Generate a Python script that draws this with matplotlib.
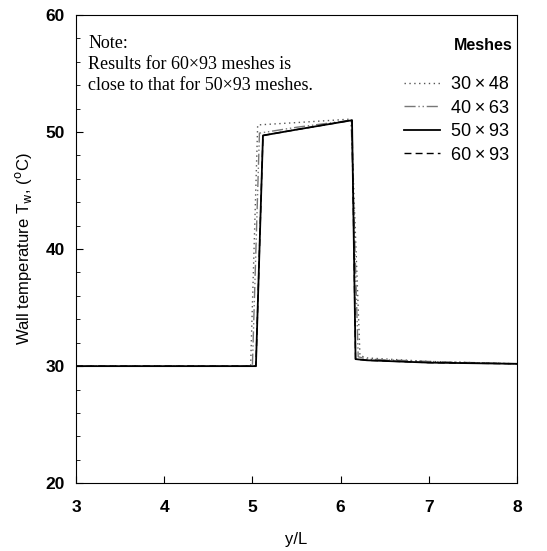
import numpy as np
import matplotlib.pyplot as plt

# wall temperature vs y/L for four mesh sizes
x_30x48 = [3.0, 4.98, 5.06, 5.5, 6.12, 6.22, 6.3, 7.0, 8.0]
t_30x48 = [30.0, 30.0, 50.6, 50.8, 51.1, 30.9, 30.7, 30.4, 30.2]

x_40x63 = [3.0, 5.0, 5.08, 5.5, 6.12, 6.2, 6.3, 7.0, 8.0]
t_40x63 = [30.0, 30.0, 49.9, 50.4, 51.0, 30.8, 30.6, 30.4, 30.2]

x_50x93 = [3.0, 5.04, 5.12, 5.5, 6.13, 6.17, 6.3, 7.0, 8.0]
t_50x93 = [30.0, 30.0, 49.7, 50.2, 51.0, 30.6, 30.5, 30.3, 30.2]

x_60x93 = [3.0, 5.04, 5.12, 5.5, 6.13, 6.17, 6.3, 7.0, 8.0]
t_60x93 = [30.0, 30.0, 49.7, 50.2, 51.0, 30.6, 30.5, 30.3, 30.2]

labels = ['30\u2009\u00d7\u200948', '40\u2009\u00d7\u200963', '50\u2009\u00d7\u200993', '60\u2009\u00d7\u200993']

plt.rcParams['font.family'] = ['Liberation Sans', 'DejaVu Sans']

fig = plt.figure(figsize=(5.47, 5.51), dpi=100)
ax = fig.add_axes([0.139, 0.123, 0.806, 0.850])

ax.plot(x_30x48, t_30x48, color='#555555', lw=1.0, ls=(0, (1, 2.5)), label=labels[0])
ax.plot(x_40x63, t_40x63, color='#777777', lw=1.0, ls=(0, (8, 2, 1, 2, 1, 2)), label=labels[1])
ax.plot(x_50x93, t_50x93, color='black', lw=1.3, ls='-', label=labels[2])
ax.plot(x_60x93, t_60x93, color='black', lw=1.0, ls=(0, (5, 3)), label=labels[3])

ax.set_xlim(3, 8)
ax.set_ylim(20, 60)
ax.set_xticks([3, 4, 5, 6, 7, 8])
ax.set_yticks([20, 30, 40, 50, 60])
ax.set_yticks(np.arange(20, 61, 2), minor=True)
ax.tick_params(direction='in', length=5, width=0.8, labelsize=12.5, pad=8)
ax.tick_params(which='minor', direction='in', length=3, width=0.6)
ax.tick_params(axis='x', pad=12)
for lab in ax.get_xticklabels() + ax.get_yticklabels():
    lab.set_fontweight('bold')

ax.set_xlabel('y/L', fontsize=12, labelpad=12)
ax.set_ylabel(r'Wall temperature T$_\mathrm{w}$, ($^\mathrm{o}$C)', fontsize=12, labelpad=8)

ax.text(0.028, 0.957, 'Note:\nResults for 60\u00d793 meshes is\nclose to that for 50\u00d793 meshes.',
        transform=ax.transAxes, family=['Liberation Serif', 'DejaVu Serif'],
        fontsize=13, va='top', ha='left', linespacing=1.3)

ax.text(0.99, 0.935, 'Meshes', transform=ax.transAxes, fontsize=11.5,
        fontweight='bold', ha='right', va='center')

leg = ax.legend(loc='upper right', frameon=False, fontsize=13,
                handlelength=2.0, handletextpad=0.6, labelspacing=0.36,
                bbox_to_anchor=(1.006, 0.892), borderaxespad=0.2)

fig.savefig('out.png', dpi=100)
